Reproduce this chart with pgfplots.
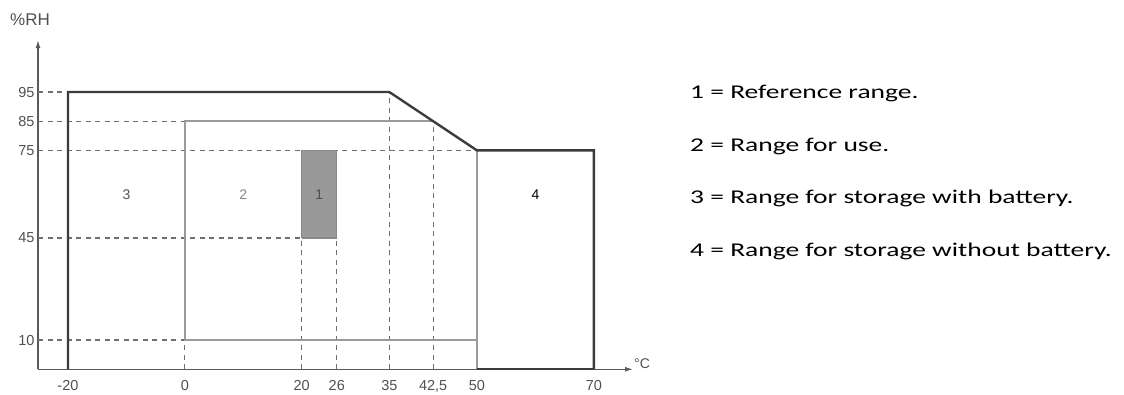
\documentclass[border=0pt]{standalone}
\usepackage{pgfplots}
\pgfplotsset{compat=1.18}
\usepackage{fontspec}
\setmainfont{Liberation Sans}
\newfontfamily\calib{Carlito}
\usetikzlibrary{arrows.meta}
\definecolor{darkline}{HTML}{3C3C3C}
\definecolor{grayline}{HTML}{9A9A9A}
\definecolor{dashgray}{HTML}{707070}
\definecolor{fillgray}{HTML}{999999}
\definecolor{fillborder}{HTML}{888888}
\definecolor{axisgray}{HTML}{5A5A5A}
\definecolor{ticktext}{HTML}{505050}
\begin{document}
\begin{tikzpicture}
\path[use as bounding box] (0,0) rectangle (1124pt,395pt);
\begin{axis}[
  at={(38pt,25.7pt)}, anchor=south west,
  scale only axis, width=595pt, height=329.2pt,
  xmin=-25.13, xmax=76.7, ymin=0, ymax=112.8,
  axis x line=bottom, axis y line=left,
  axis line style={draw=axisgray, line width=1.3pt, -{Latex[length=8pt,width=5pt]}},
  xtick={-20,0,20,26,35,42.5,50,70},
  xticklabels={-20,0,20,26,35,{42,5},50,70},
  ytick={10,45,75,85,95},
  yticklabels={10,45,75,85,95},
  major tick length=0pt,
  tick label style={font=\fontsize{14.5}{15}\selectfont, text=ticktext},
  xticklabel style={yshift=-8pt},
  clip=false,
]
% dashed guide lines
\addplot[draw=dashgray, line width=1.3pt, dash pattern=on 5pt off 4.5pt] coordinates {(-25.13,95) (-20,95)};
\addplot[draw=dashgray, line width=1.3pt, dash pattern=on 5pt off 4.5pt] coordinates {(-25.13,85) (0,85)};
\addplot[draw=dashgray, line width=1.3pt, dash pattern=on 5pt off 4.5pt] coordinates {(-25.13,75) (50,75)};
\addplot[draw=dashgray, line width=1.3pt, dash pattern=on 5pt off 4.5pt] coordinates {(-25.13,45) (20,45)};
\addplot[draw=dashgray, line width=1.3pt, dash pattern=on 5pt off 4.5pt] coordinates {(-25.13,10) (0,10)};
\addplot[draw=dashgray, line width=1.3pt, dash pattern=on 5pt off 4.5pt] coordinates {(0,0) (0,10)};
\addplot[draw=dashgray, line width=1.3pt, dash pattern=on 5pt off 4.5pt] coordinates {(20,0) (20,45)};
\addplot[draw=dashgray, line width=1.3pt, dash pattern=on 5pt off 4.5pt] coordinates {(26,0) (26,45)};
\addplot[draw=dashgray, line width=1.3pt, dash pattern=on 5pt off 4.5pt] coordinates {(35,0) (35,95)};
\addplot[draw=dashgray, line width=1.3pt, dash pattern=on 5pt off 4.5pt] coordinates {(42.5,0) (42.5,85)};
% region 1
\addplot[fill=fillgray, draw=fillborder, line width=1.2pt] coordinates {(20,45) (26,45) (26,75) (20,75) (20,45)};
% region 2 (gray)
\addplot[draw=grayline, line width=2pt] coordinates {(42.5,85) (0,85) (0,10) (50,10)};
\addplot[draw=grayline, line width=2pt] coordinates {(50,0) (50,75)};
% region 3 and 4 (dark)
\addplot[draw=darkline, line width=2.4pt] coordinates {(-20,0) (-20,95) (35,95) (50,75) (70,75) (70,0)};
\addplot[draw=darkline, line width=2pt] coordinates {(50,0) (70,0)};
% region numbers
\node[font=\fontsize{14}{14}\selectfont, text=ticktext] at (axis cs:-10,60) {3};
\node[font=\fontsize{14}{14}\selectfont, text=grayline!90!black] at (axis cs:10,60) {2};
\node[font=\fontsize{14}{14}\selectfont, text=ticktext] at (axis cs:23,60) {1};
\node[font=\fontsize{14}{14}\selectfont, text=black] at (axis cs:60,60) {4};
% axis names
\node[font=\fontsize{17}{17}\selectfont, text=ticktext, xshift=-8pt, yshift=20pt] at (rel axis cs:0,1) {\%RH};
\node[font=\fontsize{14}{14}\selectfont, text=ticktext, anchor=west, yshift=6pt, inner sep=1pt] at (rel axis cs:1,0) {°C};
\end{axis}
% legend text
\node[anchor=base west, inner sep=0pt, font=\calib\fontsize{19.5}{20}\selectfont] at (690pt,296pt) {\scalebox{1.41}[1]{1 = Reference range.}};
\node[anchor=base west, inner sep=0pt, font=\calib\fontsize{19.5}{20}\selectfont] at (690pt,243.5pt) {\scalebox{1.41}[1]{2 = Range for use.}};
\node[anchor=base west, inner sep=0pt, font=\calib\fontsize{19.5}{20}\selectfont] at (690pt,191pt) {\scalebox{1.41}[1]{3 = Range for storage with battery.}};
\node[anchor=base west, inner sep=0pt, font=\calib\fontsize{19.5}{20}\selectfont] at (690pt,138.5pt) {\scalebox{1.41}[1]{4 = Range for storage without battery.}};
\end{tikzpicture}
\end{document}
